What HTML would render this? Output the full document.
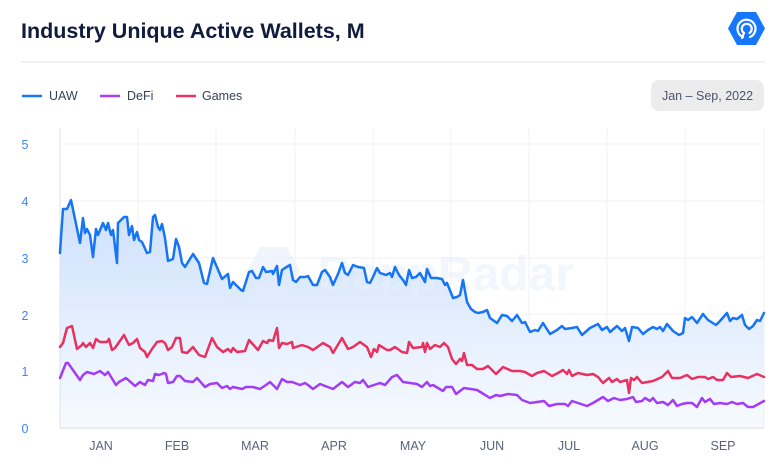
<!DOCTYPE html>
<html><head><meta charset="utf-8"><style>
html,body{margin:0;padding:0;background:#fff;}
body{width:780px;height:471px;overflow:hidden;position:relative;font-family:"Liberation Sans",sans-serif;}
</style></head><body>
<svg width="780" height="471" viewBox="0 0 780 471" xmlns="http://www.w3.org/2000/svg" style="position:absolute;left:0;top:0">
<defs>
<linearGradient id="fg" x1="0" y1="190" x2="0" y2="428" gradientUnits="userSpaceOnUse">
<stop offset="0" stop-color="#cbdffc"/>
<stop offset="1" stop-color="#f7faff"/>
</linearGradient>
</defs>
<rect width="780" height="471" fill="#fff"/>
<text x="21" y="38" font-family="Liberation Sans, sans-serif" font-weight="bold" font-size="21.5" fill="#101b3d">Industry Unique Active Wallets, M</text>
<line x1="21" y1="62" x2="765" y2="62" stroke="#e6e8ec" stroke-width="1.2"/>
<!-- logo -->
<polygon points="728,28.5 737,12 756,12 765,28.5 756,45 737,45" fill="#1577fb"/>
<g fill="none" stroke="#fff" stroke-width="2.2" stroke-linecap="round">
<path d="M743,37 A9,9 0 1 1 750,37"/>
<path d="M744,33 A5,5 0 1 1 749.5,33"/>
<line x1="744" y1="33" x2="742" y2="38"/>
</g>
<!-- legend -->
<line x1="22" y1="96" x2="42" y2="96" stroke="#1a78f7" stroke-width="2.6"/>
<text x="49" y="100" font-size="12.5" fill="#384157">UAW</text>
<line x1="100" y1="96" x2="120" y2="96" stroke="#aa3ff7" stroke-width="2.6"/>
<text x="127" y="100" font-size="12.5" fill="#384157">DeFi</text>
<line x1="176" y1="96" x2="196" y2="96" stroke="#e8356a" stroke-width="2.6"/>
<text x="202" y="100" font-size="12.5" fill="#384157">Games</text>
<!-- date button -->
<rect x="651" y="80" width="113" height="31" rx="8" fill="#ececee"/>
<text x="707.5" y="100" font-size="12.5" fill="#4d5568" text-anchor="middle">Jan – Sep, 2022</text>
<!-- grid -->
<g stroke="#f0f1f4" stroke-width="1">
<line x1="60" y1="144" x2="764" y2="144"/>
<line x1="60" y1="201" x2="764" y2="201"/>
<line x1="60" y1="258" x2="764" y2="258"/>
<line x1="60" y1="314" x2="764" y2="314"/>
<line x1="60" y1="371" x2="764" y2="371"/>
<line x1="138" y1="128" x2="138" y2="428"/>
<line x1="216" y1="128" x2="216" y2="428"/>
<line x1="295" y1="128" x2="295" y2="428"/>
<line x1="373" y1="128" x2="373" y2="428"/>
<line x1="451" y1="128" x2="451" y2="428"/>
<line x1="529" y1="128" x2="529" y2="428"/>
<line x1="607" y1="128" x2="607" y2="428"/>
<line x1="685" y1="128" x2="685" y2="428"/>
</g>
<!-- fill -->
<path fill="url(#fg)" d="M60,428 L60,253 61,237 63,209 67,209 71,200 80,243 83,218 85,233 87,229 90,235 93,257 96,229 98,235 103,223 106,230 108,223 111,235 113,230 117,263 118,223 124,217 127,217 129,235 132,226 134,240 137,232 139,240 142,242 147,253 150,252 153,217 155,215 158,227 160,230 162,224 165,238 168,261 173,259 176,239 179,247 182,263 185,267 193,254 199,263 204,283 207,284 213,258 222,279 228,274 230,288 233,282 241,290 243,291 249,272 252,271 256,278 259,278 263,267 266,272 272,271 273,274 277,266 279,285 282,270 285,268 290,265 293,280 296,282 300,277 305,277 308,276 313,285 317,285 322,272 325,270 330,277 333,285 338,274 342,263 345,273 348,275 353,265 358,267 364,268 367,282 370,283 373,277 377,268 380,273 386,275 390,273 392,277 395,267 399,275 403,280 406,285 409,270 412,278 416,277 420,273 425,282 427,269 431,278 437,278 442,279 445,285 447,283 453,298 457,297 460,295 463,280 467,302 471,309 475,312 478,313 483,312 487,310 490,318 497,323 502,315 507,316 512,321 517,315 522,323 525,322 530,332 535,330 538,331 543,323 550,334 557,330 562,326 565,329 572,328 577,327 582,335 590,328 598,324 602,330 607,327 610,332 617,326 622,331 625,328 629,341 632,327 638,328 643,334 648,330 653,327 657,329 660,327 663,331 667,324 673,331 679,335 683,333 685,318 688,320 692,317 697,323 703,314 708,320 716,325 720,321 727,313 730,321 733,318 737,319 742,315 745,325 749,329 753,326 757,320 760,321 764,313 L764,428 Z"/>
<!-- watermark -->
<g opacity="0.5">
<polygon points="247,271 260,247 287,247 300,271 287,296 260,296" fill="#e3edfd"/>
<text x="318" y="290" font-size="48" font-weight="bold" fill="#e6effd">DappRadar</text>
</g>
<!-- axes -->
<line x1="60" y1="128" x2="60" y2="428" stroke="#e4e6ea" stroke-width="1.2"/>
<line x1="764" y1="128" x2="764" y2="428" stroke="#eef0f3" stroke-width="1"/>
<line x1="60" y1="428" x2="764" y2="428" stroke="#e2e4e8" stroke-width="1.2"/>
<!-- series -->
<g fill="none" stroke-width="2.5" stroke-linejoin="round" stroke-linecap="round">
<polyline stroke="#1575f5" points="60,253 61,237 63,209 67,209 71,200 80,243 83,218 85,233 87,229 90,235 93,257 96,229 98,235 103,223 106,230 108,223 111,235 113,230 117,263 118,223 124,217 127,217 129,235 132,226 134,240 137,232 139,240 142,242 147,253 150,252 153,217 155,215 158,227 160,230 162,224 165,238 168,261 173,259 176,239 179,247 182,263 185,267 193,254 199,263 204,283 207,284 213,258 222,279 228,274 230,288 233,282 241,290 243,291 249,272 252,271 256,278 259,278 263,267 266,272 272,271 273,274 277,266 279,285 282,270 285,268 290,265 293,280 296,282 300,277 305,277 308,276 313,285 317,285 322,272 325,270 330,277 333,285 338,274 342,263 345,273 348,275 353,265 358,267 364,268 367,282 370,283 373,277 377,268 380,273 386,275 390,273 392,277 395,267 399,275 403,280 406,285 409,270 412,278 416,277 420,273 425,282 427,269 431,278 437,278 442,279 445,285 447,283 453,298 457,297 460,295 463,280 467,302 471,309 475,312 478,313 483,312 487,310 490,318 497,323 502,315 507,316 512,321 517,315 522,323 525,322 530,332 535,330 538,331 543,323 550,334 557,330 562,326 565,329 572,328 577,327 582,335 590,328 598,324 602,330 607,327 610,332 617,326 622,331 625,328 629,341 632,327 638,328 643,334 648,330 653,327 657,329 660,327 663,331 667,324 673,331 679,335 683,333 685,318 688,320 692,317 697,323 703,314 708,320 716,325 720,321 727,313 730,321 733,318 737,319 742,315 745,325 749,329 753,326 757,320 760,321 764,313"/>
<polyline stroke="#e8315f" points="60,347 63,343 67,328 72,326 77,349 82,345 83,343 86,347 90,343 93,348 96,339 100,342 107,342 109,339 112,350 115,348 124,335 129,345 133,343 137,339 140,348 145,352 147,357 152,349 157,342 162,341 165,343 168,350 172,347 176,338 180,338 182,352 187,353 193,347 199,355 205,357 212,338 217,347 223,352 228,349 231,352 233,348 237,352 245,351 249,340 258,350 263,341 267,343 269,340 273,341 277,328 279,348 282,343 287,344 292,342 293,348 302,345 308,347 313,350 323,343 330,347 333,353 342,338 348,349 353,347 360,342 367,347 371,357 374,349 377,352 379,345 387,350 390,350 395,347 402,352 407,353 409,342 413,348 422,347 423,343 425,352 427,343 430,349 435,345 440,347 444,343 448,347 452,359 456,364 460,359 462,361 464,353 467,365 472,365 477,369 483,369 488,366 496,374 503,367 512,371 520,371 525,372 532,376 537,373 544,371 552,376 558,373 563,370 567,374 569,370 572,376 578,373 587,375 593,374 598,377 603,383 609,378 612,382 617,379 620,382 627,380 629,393 631,378 634,380 637,377 642,383 653,381 662,377 666,373 668,371 672,378 680,378 687,375 692,379 698,377 705,377 708,379 713,377 717,380 723,380 727,373 731,377 740,376 748,378 757,374 764,377"/>
<polyline stroke="#a43cf6" points="60,378 66,363 68,363 80,380 83,375 87,372 94,374 100,371 105,375 108,372 116,385 119,382 126,378 135,386 140,382 145,385 148,380 153,381 155,374 159,375 164,373 166,374 168,383 173,382 177,376 180,376 185,381 193,382 197,378 205,387 210,384 217,383 222,388 227,386 230,389 233,387 242,389 246,387 253,387 260,389 266,385 270,382 273,385 277,389 282,379 287,382 292,382 300,385 305,383 308,385 313,389 320,384 333,389 342,382 348,387 355,382 360,383 363,380 368,387 380,383 385,385 392,377 397,375 403,382 410,383 417,384 422,387 427,382 430,386 433,385 443,391 446,387 452,387 456,394 464,388 477,390 482,393 490,398 496,395 500,396 508,394 517,395 522,400 530,403 537,402 544,401 549,406 557,404 565,404 568,406 572,401 578,403 587,406 593,403 603,397 608,401 614,398 620,400 627,399 633,397 636,402 642,401 645,398 650,401 653,398 657,403 663,402 668,405 673,400 677,406 682,404 687,403 692,403 697,407 702,398 705,402 710,399 714,404 720,403 727,404 732,402 737,404 743,403 748,407 753,407 764,401"/>
</g>
<!-- y labels -->
<g font-size="12.5" fill="#3c86f5" text-anchor="middle">
<text x="25" y="149">5</text>
<text x="25" y="206">4</text>
<text x="25" y="263">3</text>
<text x="25" y="320">2</text>
<text x="25" y="376">1</text>
<text x="25" y="433">0</text>
</g>
<!-- x labels -->
<g font-size="12.5" fill="#5a6377" text-anchor="middle">
<text x="101" y="450">JAN</text>
<text x="177" y="450">FEB</text>
<text x="255" y="450">MAR</text>
<text x="334" y="450">APR</text>
<text x="413" y="450">MAY</text>
<text x="492" y="450">JUN</text>
<text x="569" y="450">JUL</text>
<text x="645" y="450">AUG</text>
<text x="723" y="450">SEP</text>
</g>
</svg>
</body></html>
